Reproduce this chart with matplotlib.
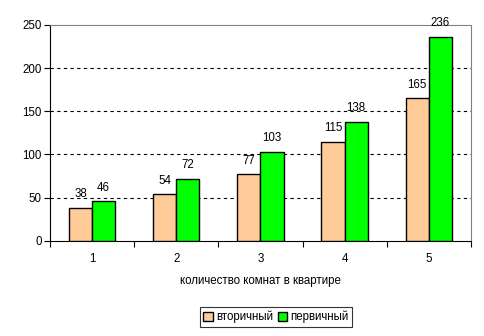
import matplotlib.pyplot as plt
import numpy as np

# ===== data =====
rooms = ["1", "2", "3", "4", "5"]
secondary = [38, 54, 77, 115, 165]
primary = [46, 72, 103, 138, 236]
series_names = ["вторичный", "первичный"]

plt.rcParams['font.family'] = ['Liberation Sans', 'DejaVu Sans']
plt.rcParams['font.size'] = 8

fig = plt.figure(figsize=(4.85, 3.36), dpi=100)
ax = fig.add_axes([0.103, 0.283, 0.868, 0.643])

x = np.arange(1, len(rooms) + 1)
w = 0.275
b1 = ax.bar(x - w / 2, secondary, w, color="#FFCC99", edgecolor="black", linewidth=1.0,
            label=series_names[0], zorder=3)
b2 = ax.bar(x + w / 2, primary, w, color="#00FF00", edgecolor="black", linewidth=1.0,
            label=series_names[1], zorder=3)

# value labels above each bar
for bars, vals in ((b1, secondary), (b2, primary)):
    for r, v in zip(bars, vals):
        ax.annotate(str(v), (r.get_x() + r.get_width() / 2, v), xytext=(0, 5.5),
                    textcoords="offset points", ha="center", va="bottom", fontsize=8.3)

ax.set_xlim(0.5, 5.5)
ax.set_ylim(0, 250)
ax.set_yticks(np.arange(0, 251, 50))
ax.set_xticks(x)
ax.set_xticklabels(rooms)
ax.set_xticks(np.arange(0.5, 5.6, 1), minor=True)
ax.tick_params(axis="x", which="major", length=0, pad=9, labelsize=8.3)
ax.tick_params(axis="x", which="minor", length=4, width=0.8, direction="out")
ax.tick_params(axis="y", length=4, width=0.8, direction="out", pad=2, labelsize=8.3)

for yv in [50, 100, 150, 200]:
    ax.axhline(yv, color="black", linestyle=(0, (3, 3)), linewidth=0.8, zorder=1)

ax.spines["top"].set_color("#808080")
ax.spines["right"].set_color("#808080")
ax.spines["left"].set_color("black")
ax.spines["bottom"].set_color("black")

ax.set_xlabel("количество комнат в квартире", fontsize=8.3, labelpad=7)

leg = fig.legend(loc="center", bbox_to_anchor=(0.569, 0.057), ncol=2, frameon=True,
                 fancybox=False, edgecolor="black", handlelength=0.8, handleheight=0.8,
                 handletextpad=0.3, columnspacing=0.4, borderpad=0.3, fontsize=8.3)
leg.get_frame().set_linewidth(0.8)

plt.savefig("out.png", dpi=100)
